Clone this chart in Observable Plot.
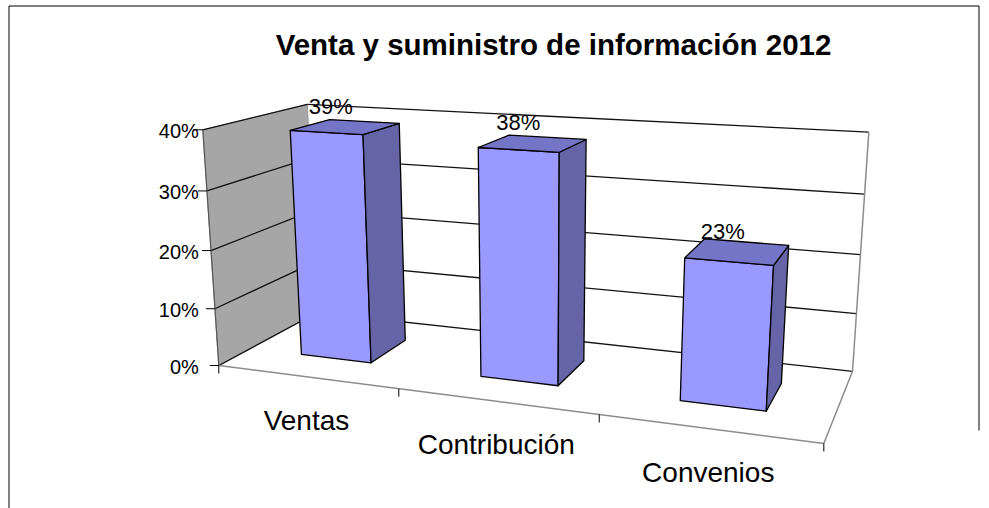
<!DOCTYPE html>
<html>
<head>
<meta charset="utf-8">
<script src="https://cdn.jsdelivr.net/npm/d3@7"></script>
<script src="https://cdn.jsdelivr.net/npm/@observablehq/plot@0.6"></script>
<style>
  html, body { margin: 0; padding: 0; background: #fff; }
  #chart svg { display: block; }
</style>
</head>
<body>
<div id="chart"></div>
<script>
// ---- data ----
const title = "Venta y suministro de información 2012";
const categories = ["Ventas", "Contribución", "Convenios"];
const values = [0.39, 0.38, 0.23];
const yTicks = [0, 0.1, 0.2, 0.3, 0.4];
const yMax = 0.4;

// ---- 3D view (perspective camera of the Excel 3-D column chart) ----
// world: X in category units [0, n], value in [0, yMax], Z depth [0 front .. 1 back]
const view = {
  x: [218.3, 159.7, -25.73, 141.9],
  y: [365, 3.4, -241.92, -9.94],
  w: [1, -0.05098, -0.0481, 0.138]
};
function P(X, v, Z) {
  const Y = v / yMax;
  const f = r => r[0] + r[1] * X + r[2] * Y + r[3] * Z;
  const w = f(view.w);
  return [f(view.x) / w, f(view.y) / w];
}
const n = categories.length;
const gap = 1.5;                 // Excel gap width 150%
const bw = 1 / (1 + gap);        // bar width in category units
const z0 = 0.3, z1 = 0.7;        // bar depth span

function poly(id, corners) {
  return corners.map(([X, v, Z]) => { const [x, y] = P(X, v, Z); return {id, x, y}; });
}

const fronts = [], sides = [], tops = [];
values.forEach((v, i) => {
  const a = i + (1 - bw) / 2, b = a + bw;
  fronts.push(...poly(i, [[a, 0, z0], [b, 0, z0], [b, v, z0], [a, v, z0]]));
  sides.push(...poly(i, [[b, 0, z0], [b, 0, z1], [b, v, z1], [b, v, z0]]));
  tops.push(...poly(i, [[a, v, z0], [b, v, z0], [b, v, z1], [a, v, z1]]));
});
const leftWall = poly("wall", [[0, 0, 0], [0, yMax, 0], [0, yMax, 1], [0, 0, 1]]);

function seg(p, q) { const [x1, y1] = P(...p), [x2, y2] = P(...q); return {x1, y1, x2, y2}; }
const gridLeft = yTicks.map(t => seg([0, t, 0], [0, t, 1]));
const gridBack = yTicks.map(t => seg([0, t, 1], [n, t, 1]));
const frameGray = [
  seg([n, 0, 1], [n, yMax, 1]),
  seg([0, 0, 0], [n, 0, 0]),
  seg([n, 0, 0], [n, 0, 1])
];
const wallFront = [seg([0, 0, 0], [0, yMax, 0])];
const yTickMarks = yTicks.map(t => { const [x, y] = P(0, t, 0); return {x1: x - 9, y1: y, x2: x, y2: y}; });
const xTickMarks = d3.range(0, n + 1).map(k => { const [x, y] = P(k, 0, 0); return {x1: x, y1: y, x2: x, y2: y + 8}; });

const yLabelX = P(0, yMax, 0)[0] - 4;
const yLabels = yTicks.map(t => ({x: yLabelX, y: P(0, t, 0)[1], text: d3.format(".0%")(t)}));
const dataLabels = values.map((v, i) => { const [x, y] = P(i + 0.5, v, 0.5); return {x, y, text: d3.format(".0%")(v)}; });
const xLabels = categories.map((c, i) => { const [x, y] = P(i + 0.5, 0, 0); return {x, y, text: c}; });

// chart-area border (page frame)
const border = [
  {x1: 8.5, y1: 5.5, x2: 978.5, y2: 5.5},
  {x1: 8.5, y1: 5.5, x2: 8.5, y2: 508},
  {x1: 978.5, y1: 5.5, x2: 978.5, y2: 430}
];

const font = "'Liberation Sans', Arial, sans-serif";

const chart = Plot.plot({
  width: 989,
  height: 508,
  margin: 0,
  x: {type: "identity", axis: null},
  y: {type: "identity", axis: null},
  style: {background: "white", fontFamily: font},
  marks: [
    Plot.link(border, {x1: "x1", y1: "y1", x2: "x2", y2: "y2", stroke: "#000", strokeWidth: 1}),
    // left wall
    Plot.line(leftWall, {x: "x", y: "y", z: "id", fill: "#a6a6a6", stroke: "#9a9a9a", strokeWidth: 1, curve: "linear-closed"}),
    // gridlines
    Plot.link(gridLeft, {x1: "x1", y1: "y1", x2: "x2", y2: "y2", stroke: "#111", strokeWidth: 1.3}),
    Plot.link(gridBack, {x1: "x1", y1: "y1", x2: "x2", y2: "y2", stroke: "#111", strokeWidth: 1.3}),
    Plot.link(frameGray, {x1: "x1", y1: "y1", x2: "x2", y2: "y2", stroke: "#8c8c8c", strokeWidth: 1.5}),
    Plot.link(wallFront, {x1: "x1", y1: "y1", x2: "x2", y2: "y2", stroke: "#555", strokeWidth: 1.2}),
    Plot.link(yTickMarks, {x1: "x1", y1: "y1", x2: "x2", y2: "y2", stroke: "#000", strokeWidth: 1}),
    Plot.link(xTickMarks, {x1: "x1", y1: "y1", x2: "x2", y2: "y2", stroke: "#000", strokeWidth: 1}),
    // bars
    Plot.line(fronts, {x: "x", y: "y", z: "id", fill: "#9999ff", stroke: "#000", strokeWidth: 1.3, curve: "linear-closed"}),
    Plot.line(sides, {x: "x", y: "y", z: "id", fill: "#6464a6", stroke: "#000", strokeWidth: 1.3, curve: "linear-closed"}),
    Plot.line(tops, {x: "x", y: "y", z: "id", fill: "#7575c8", stroke: "#000", strokeWidth: 1.3, curve: "linear-closed"}),
    // texts
    Plot.text(yLabels, {x: "x", y: "y", text: "text", textAnchor: "end", dy: 2, fontSize: 20, fill: "#000"}),
    Plot.text(dataLabels, {x: "x", y: "y", text: "text", dx: -15, dy: -20, fontSize: 22, fill: "#000"}),
    Plot.text(xLabels, {x: "x", y: "y", text: "text", dy: 44, fontSize: 28, fill: "#000"}),
    Plot.text([title], {x: () => 553, y: () => 45, text: d => d, fontSize: 29.5, fontWeight: "bold", fill: "#000"})
  ]
});
document.getElementById("chart").appendChild(chart);
</script>
</body>
</html>
